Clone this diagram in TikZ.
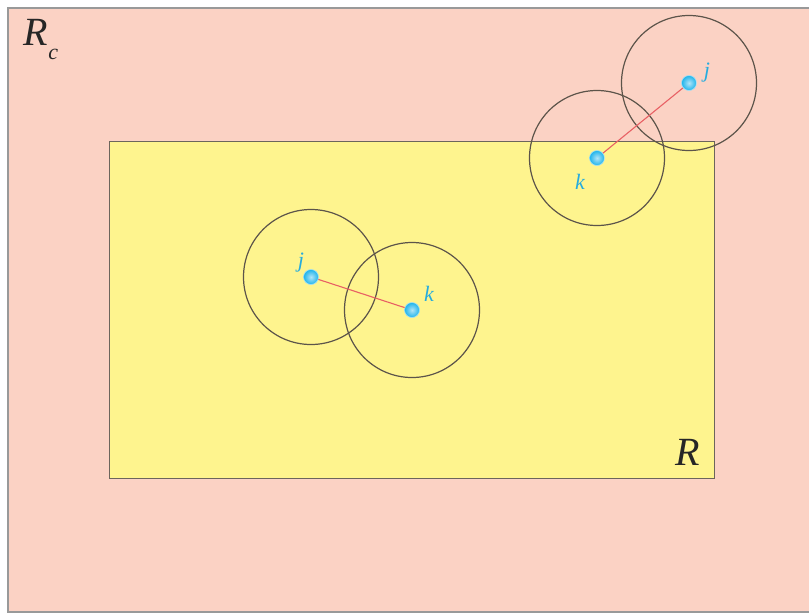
\documentclass[tikz,border=0pt]{standalone}
\usepackage{fontspec}
\setmainfont{Liberation Serif}
\usetikzlibrary{positioning}

\definecolor{regpink}{RGB}{251,210,196}
\definecolor{regyellow}{RGB}{254,244,142}
\definecolor{ptblue}{RGB}{38,172,222}
\definecolor{ballblue}{RGB}{30,180,235}
\definecolor{bondred}{RGB}{232,96,100}
\definecolor{cutgrey}{RGB}{92,84,74}

\begin{document}
\begin{tikzpicture}[
  x=1pt,y=-1pt,
  outer/.style={fill=regpink},
  outerline/.style={draw=black!40,line width=1.2pt},
  inner/.style={fill=regyellow,draw=cutgrey!90,line width=0.9pt},
  regname/.style={font=\fontsize{40}{40}\selectfont\itshape,text=black!85,inner sep=0pt},
  particle/.style={circle,inner sep=0pt,minimum size=15pt,draw=ballblue!40!white,line width=0.6pt,
    inner color=ballblue!35!white,outer color=ballblue},
  plabel/.style={font=\fontsize{22}{22}\selectfont\itshape,text=ptblue,inner sep=0pt},
  bond/.style={draw=bondred,line width=1.1pt},
  cutoff/.style={draw=cutgrey,line width=1.2pt}
]
\useasboundingbox (0,0) rectangle (809,614);

% ---------- regions ----------
\fill[outer] (8,8) rectangle (809,612);
\draw[outerline] (809,8) -- (8,8) -- (8,612) -- (809,612);
\draw[inner] (109,141) rectangle (714,478);
\node[regname] (rc) at (41,40) {R\raisebox{-0.35em}{\fontsize{22}{22}\selectfont c}};
\node[regname] (r) at (688,452) {R};

% ---------- pair inside R ----------
\node[particle] (j1) at (311,277) {};
\node[particle] (k1) at (412,310) {};
\draw[cutoff] (j1.center) circle (67.5);
\draw[cutoff] (k1.center) circle (67.5);
\draw[bond] (j1) -- (k1);
\node[plabel] (lj1) at (301,263) {j};
\node[plabel] (lk1) at (429,294) {k};

% ---------- pair across the border ----------
\node[particle] (k2) at (597,158) {};
\node[particle] (j2) at (689,83) {};
\draw[cutoff] (k2.center) circle (67.5);
\draw[cutoff] (j2.center) circle (67.5);
\draw[bond] (k2) -- (j2);
\node[plabel] (lk2) at (580,182) {k};
\node[plabel] (lj2) at (707,73) {j};

\end{tikzpicture}
\end{document}
